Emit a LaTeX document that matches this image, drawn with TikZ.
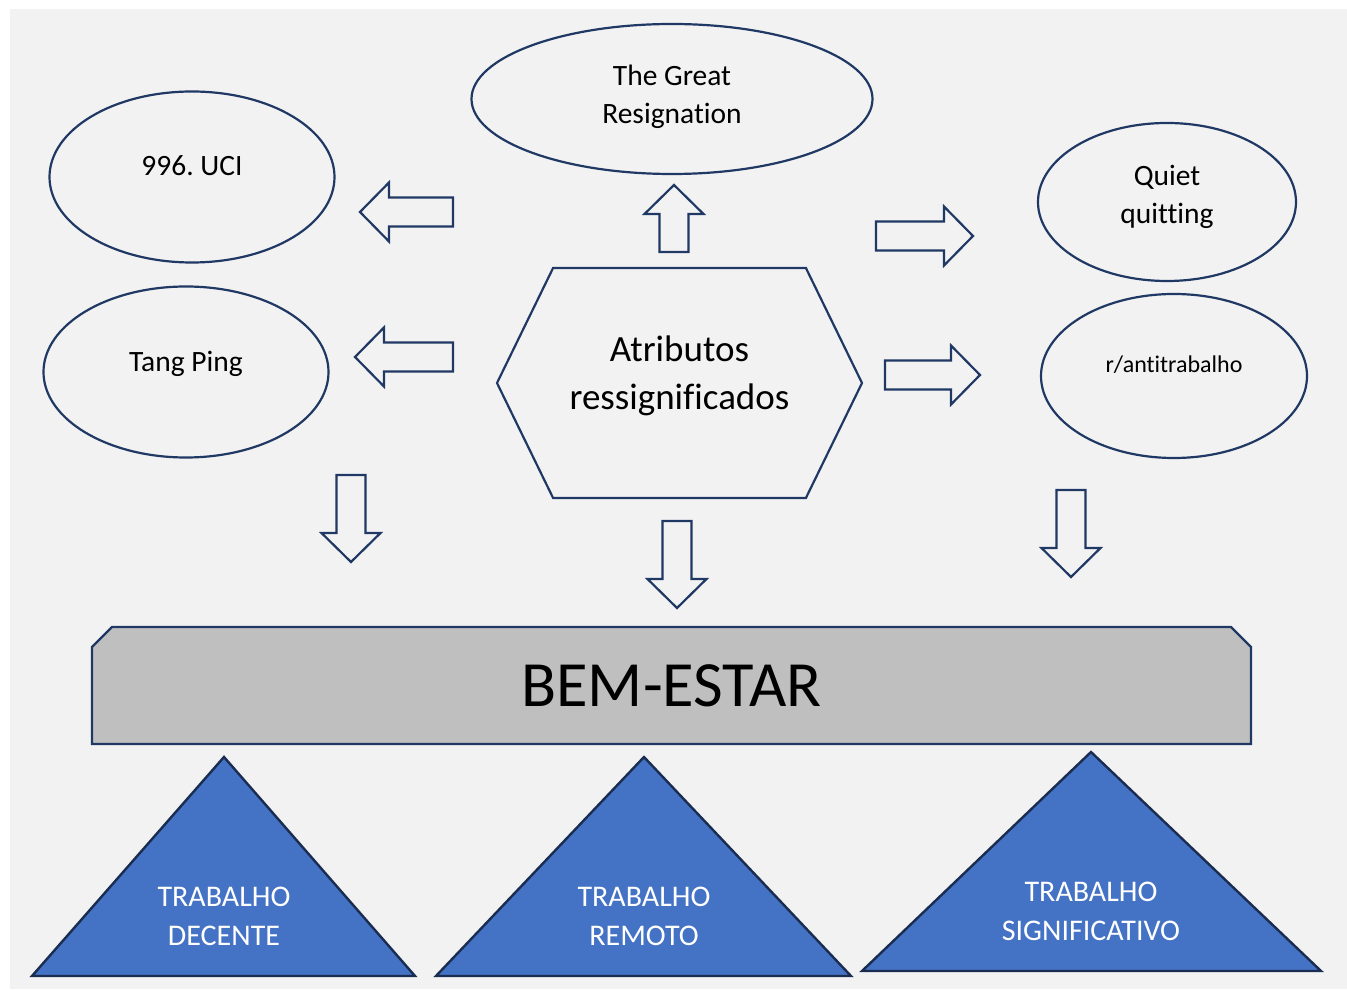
\documentclass[tikz,border=0pt]{standalone}
\usepackage{fontspec}
\setmainfont{Carlito}[Ligatures=NoCommon]
\usetikzlibrary{shapes.geometric, shapes.symbols, shapes.misc}
\definecolor{navy}{HTML}{203864}
\definecolor{panel}{HTML}{F2F2F2}
\definecolor{steel}{HTML}{4472C4}
\definecolor{slab}{HTML}{BFBFBF}
\tikzset{
  arrowline/.style={draw=navy, line width=2.2pt, fill=panel, line join=miter},
  pics/barrow/.style={code={
    \draw[arrowline] (0,-14.5) -- (#1-29,-14.5) -- (#1-29,-29.5) -- (#1,0)
      -- (#1-29,29.5) -- (#1-29,14.5) -- (0,14.5) -- cycle;
  }}
}

\begin{document}
\begin{tikzpicture}[x=1pt, y=1pt,
  oval/.style={ellipse, draw=navy, line width=2.2pt, inner sep=0pt, align=center, font=\fontsize{29.5}{38}\selectfont},
  hub/.style={signal, signal to=east and west, signal pointer angle=128, draw=navy, line width=2.2pt, inner sep=0pt, minimum width=365pt, minimum height=230pt, align=center, font=\fontsize{37}{48}\selectfont},
  slabbox/.style={chamfered rectangle, chamfered rectangle corners={north west, north east}, chamfered rectangle xsep=10pt, chamfered rectangle ysep=10pt, draw=navy, fill=slab, line width=2.2pt, inner sep=0pt, minimum width=1159pt, minimum height=117pt, font=\fontsize{64.5}{70}\selectfont},
  tri/.style={draw=navy!80!black, fill=steel, line width=2.4pt, line join=miter},
  trilabel/.style={text=white, align=center, font=\fontsize{30}{39}\selectfont}]
  \useasboundingbox (0,0) rectangle (1347,989);
  \fill[white] (0,0) rectangle (1347,989);
  \fill[panel] (10,0) rectangle (1347,980);

  % outer ideas
  \node[oval, minimum width=401pt, minimum height=150pt, text depth=10pt] (resign) at (672,890) {The Great\\Resignation};
  \node[oval, minimum width=285pt, minimum height=171pt, text depth=22pt] (uci) at (192,812) {996.\ UCI};
  \node[oval, minimum width=285pt, minimum height=171pt, text depth=22pt] (tang) at (186,617) {Tang Ping};
  \node[oval, minimum width=258pt, minimum height=158pt, text depth=15pt] (quiet) at (1167,787) {Quiet\\quitting};
  \node[oval, minimum width=266pt, minimum height=164pt, text depth=23pt, font=\fontsize{24}{28}\selectfont] (anti) at (1174,613) {r/antitrabalho};

  % centre
  \node[hub, text depth=20pt] (core) at (679.5,606) {Atributos\\ressignificados};

  % block arrows
  \pic[rotate=180] at (453,777) {barrow=93};
  \pic[rotate=180] at (453,632) {barrow=98};
  \pic[rotate=90] at (674,737) {barrow=67};
  \pic at (876,753) {barrow=97};
  \pic at (885,614) {barrow=95};
  \pic[rotate=-90] at (351,514) {barrow=87};
  \pic[rotate=-90] at (677,468) {barrow=87};
  \pic[rotate=-90] at (1071,499) {barrow=87};

  % base
  \node[slabbox] (wellbeing) at (671.5,303.5) {BEM-ESTAR};

  \draw[tri] (32,13) -- (224,232) -- (415,13) -- cycle;
  \draw[tri] (436,13) -- (644,232) -- (851,13) -- cycle;
  \draw[tri] (862,18) -- (1091,237) -- (1321,18) -- cycle;
  \node[trilabel] (decente) at (224,73) {TRABALHO\\DECENTE};
  \node[trilabel] (remoto) at (644,72.5) {TRABALHO\\REMOTO};
  \node[trilabel] (signif) at (1091,77.5) {TRABALHO\\SIGNIFICATIVO};
\end{tikzpicture}
\end{document}
